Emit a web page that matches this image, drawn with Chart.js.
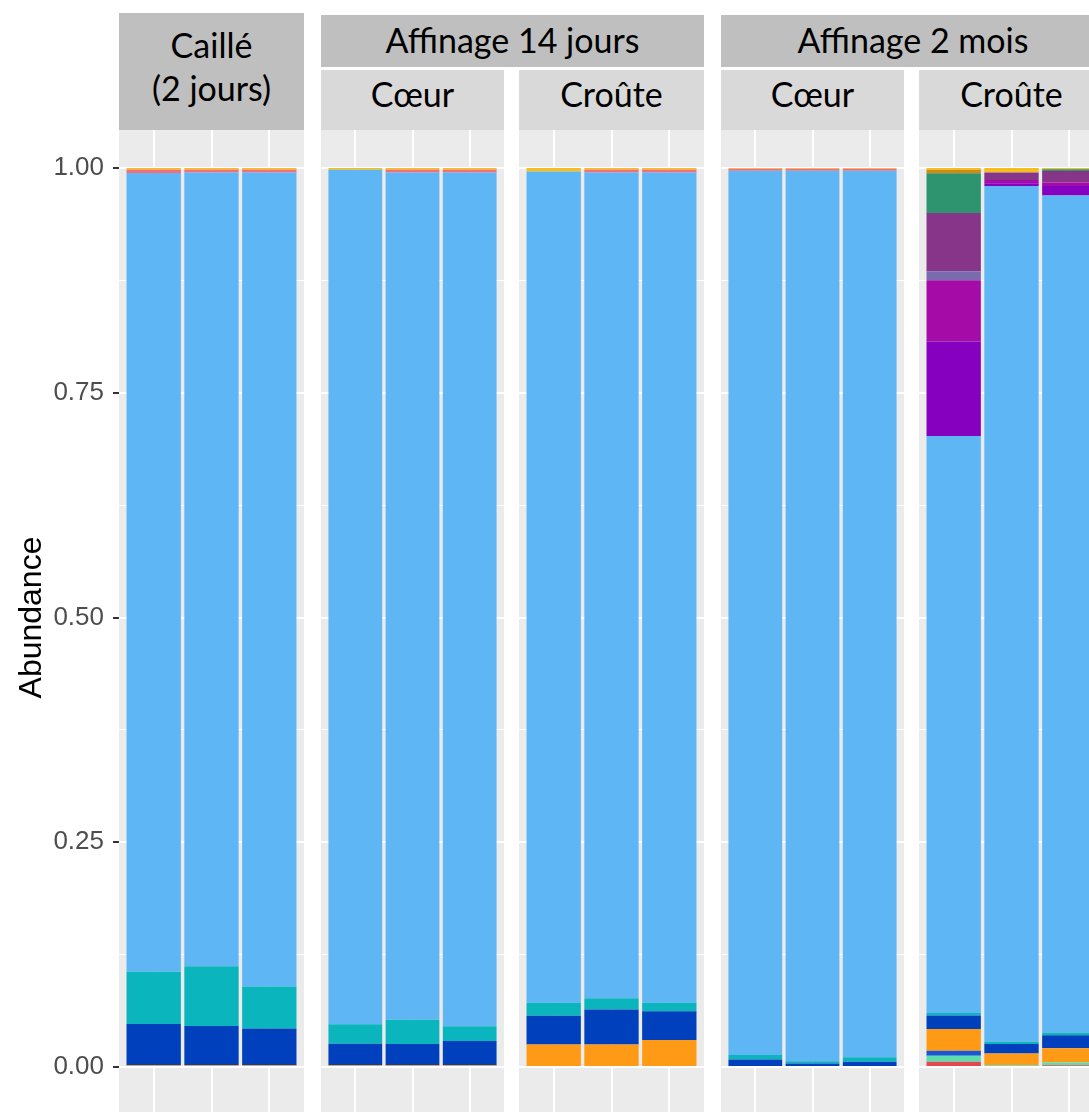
<!DOCTYPE html>
<html><head><meta charset="utf-8">
<script src="https://cdn.jsdelivr.net/npm/chart.js@4"></script>
<style>
html,body{margin:0;padding:0;background:#fff;overflow:hidden;width:1089px;height:1112px;position:relative;}
canvas{position:absolute;top:123px;}
.strip{position:absolute;display:flex;flex-direction:column;align-items:center;justify-content:center;text-align:center;font-family:Lato,'Open Sans',sans-serif;font-size:34px;color:#000;white-space:nowrap;z-index:2;}
.dark{background:#BFBFBF;}
.light{background:#D9D9D9;}
</style></head><body>
<canvas id="c0" width="304" height="989" style="left:0px"></canvas>
<canvas id="c1" width="183" height="989" style="left:321px"></canvas>
<canvas id="c2" width="185" height="989" style="left:519px"></canvas>
<canvas id="c3" width="183" height="989" style="left:721px"></canvas>
<canvas id="c4" width="185" height="989" style="left:919px"></canvas>
<div id="strips"></div>
<script>
// ---- data (15 bars: 5 panels x 3 samples, bottom-to-top stacking order) ----
const panelNames = ['Caillé (2 jours)', 'Affinage 14 jours – Cœur', 'Affinage 14 jours – Croûte', 'Affinage 2 mois – Cœur', 'Affinage 2 mois – Croûte'];
const samplePositions = [1, 2, 3];
const yTickValues = [0, 0.125, 0.25, 0.375, 0.5, 0.625, 0.75, 0.875, 1];

const red        = [0,0,0,       0,0,0,        0,0,0,        0,0,0,        0.006,0,0.002];
const mint       = [0,0,0,       0,0,0,        0,0,0,        0,0,0,        0.0067,0.002,0.003];
const blue2      = [0,0,0,       0,0,0,        0,0,0,        0,0,0,        0.0055,0,0];
const orange     = [0.002,0.002,0.002, 0.002,0.002,0.002, 0.025,0.025,0.030, 0,0,0, 0.024,0.013,0.016];
const darkblue   = [0.046,0.0437,0.041, 0.024,0.0235,0.027, 0.032,0.039,0.032, 0.0085,0.004,0.006, 0.015,0.0105,0.0145];
const teal       = [0.058,0.0663,0.0465, 0.0215,0.027,0.0165, 0.0145,0.0125,0.0095, 0.005,0.0025,0.005, 0.003,0.0025,0.003];
const lightblue  = [0.8885,0.883,0.9055, 0.9505,0.9425,0.9495, 0.9245,0.9185,0.9235, 0.9835,0.9905,0.986, 0.6418,0.952,0.931];
const violet     = [0,0,0,       0,0,0,        0,0,0,        0,0,0,        0.105,0.003,0.0105];
const magenta    = [0,0,0,       0,0,0,        0,0,0,        0,0,0,        0.068,0.0037,0.0037];
const lavender   = [0,0,0,       0,0,0,        0,0,0,        0,0,0,        0.010,0,0];
const purple     = [0,0,0,       0,0,0,        0,0,0,        0,0,0,        0.065,0.0083,0.0128];
const green      = [0,0,0,       0,0,0,        0,0,0,        0,0,0,        0.044,0,0.002];
const darkorange = [0,0,0,       0,0,0,        0,0,0,        0,0,0,        0.004,0,0];
const pink       = [0.0035,0.003,0.003, 0,0.003,0.003, 0,0.003,0.003, 0.002,0.002,0.002, 0,0,0];
const yellow     = [0.002,0.002,0.002, 0.002,0.002,0.002, 0.004,0.002,0.002, 0.001,0.001,0.001, 0.002,0.005,0.0015];

const series = [
  {name:'red', values:red, color:'#E5474F'},
  {name:'mint', values:mint, color:'#5CDDB0'},
  {name:'blue2', values:blue2, color:'#1B55CF'},
  {name:'orange', values:orange, color:'#FF9A16'},
  {name:'darkblue', values:darkblue, color:'#0040BC'},
  {name:'teal', values:teal, color:'#0BB5BE'},
  {name:'lightblue', values:lightblue, color:'#5EB6F5'},
  {name:'violet', values:violet, color:'#8600BF'},
  {name:'magenta', values:magenta, color:'#A50BA6'},
  {name:'lavender', values:lavender, color:'#7A6BAE'},
  {name:'purple', values:purple, color:'#863589'},
  {name:'green', values:green, color:'#2E936F'},
  {name:'darkorange', values:darkorange, color:'#D38A0A'},
  {name:'pink', values:pink, color:'#F26D7D'},
  {name:'yellow', values:yellow, color:'#F5BD1F'}
];

// ---- strips ----
const strips = [
  {lines:['Caillé','(2 jours)'], x:119, y:13, w:185, h:117, cls:'dark', pad:12},
  {lines:['Affinage 14 jours'], x:321, y:15, w:383, h:52, cls:'dark', pad:4},
  {lines:['Cœur'], x:321, y:70, w:183, h:60, cls:'light', pad:13},
  {lines:['Croûte'], x:519, y:70, w:185, h:60, cls:'light', pad:13},
  {lines:['Affinage 2 mois'], x:721, y:15, w:384, h:52, cls:'dark', pad:4},
  {lines:['Cœur'], x:721, y:70, w:183, h:60, cls:'light', pad:13},
  {lines:['Croûte'], x:919, y:70, w:185, h:60, cls:'light', pad:13}
];
const sc = document.getElementById('strips');
strips.forEach(s => {
  const d = document.createElement('div');
  d.className = 'strip ' + s.cls;
  d.style.cssText = `left:${s.x}px;top:${s.y}px;width:${s.w}px;height:${s.h}px;padding-bottom:${s.pad}px;box-sizing:border-box;line-height:43px;`;
  s.lines.forEach(t => { const sp = document.createElement('div'); sp.textContent = t; d.appendChild(sp); });
  sc.appendChild(d);
});

// ---- charts ----
Chart.defaults.font.family = "'Liberation Sans', Arial, sans-serif";
const isMajor = v => Math.abs(v * 4 - Math.round(v * 4)) < 1e-6;
const bgPlugin = {
  id: 'panelBg',
  beforeDraw(chart) {
    const {ctx, chartArea: a} = chart;
    ctx.save(); ctx.fillStyle = '#EBEBEB';
    ctx.fillRect(a.left, a.top, a.right - a.left, a.bottom - a.top);
    ctx.restore();
  }
};

function makeChart(id, p, withAxis) {
  const datasets = series.map(s => ({
    label: s.name,
    backgroundColor: s.color,
    data: samplePositions.map((x, i) => ({x: x, y: s.values[p * 3 + i]}))
  }));
  return new Chart(document.getElementById(id), {
    type: 'bar',
    data: {datasets},
    options: {
      responsive: false, animation: false,
      layout: {padding: 0},
      plugins: {legend: {display: false}, tooltip: {enabled: false}},
      datasets: {bar: {categoryPercentage: 1, barPercentage: 0.94, borderWidth: 0}},
      scales: {
        x: {
          type: 'linear', min: 0.4, max: 3.6, bounds: 'data', offset: false, stacked: true,
          afterBuildTicks: s => { s.ticks = samplePositions.map(v => ({value: v})); },
          ticks: {display: false},
          grid: {color: '#FFFFFF', lineWidth: 2, drawTicks: false, offset: false},
          border: {display: false},
          afterFit: s => { s.height = 0; s.paddingLeft = 0; s.paddingRight = 0; }
        },
        y: {
          type: 'linear', min: -0.05, max: 1.05, bounds: 'data', stacked: true,
          afterBuildTicks: s => { s.ticks = yTickValues.map(v => ({value: v})); },
          ticks: {
            display: withAxis, padding: 9, color: '#4D4D4D',
            font: {size: 26},
            callback: v => isMajor(v) ? v.toFixed(2) : ''
          },
          grid: {
            color: '#FFFFFF',
            lineWidth: c => isMajor(c.tick.value) ? 2 : 1,
            drawTicks: withAxis, tickLength: 6, tickWidth: 2,
            tickColor: c => isMajor(c.tick.value) ? '#333333' : 'rgba(0,0,0,0)'
          },
          border: {display: false},
          title: {display: withAxis, text: 'Abundance', color: '#000000', font: {size: 32}, padding: {top: 13, bottom: 0}},
          afterFit: s => { s.width = withAxis ? 119 : 0; s.paddingTop = 0; s.paddingBottom = 0; }
        }
      }
    },
    plugins: [bgPlugin]
  });
}
makeChart('c0', 0, true);
makeChart('c1', 1, false);
makeChart('c2', 2, false);
makeChart('c3', 3, false);
makeChart('c4', 4, false);
</script>
</body></html>
